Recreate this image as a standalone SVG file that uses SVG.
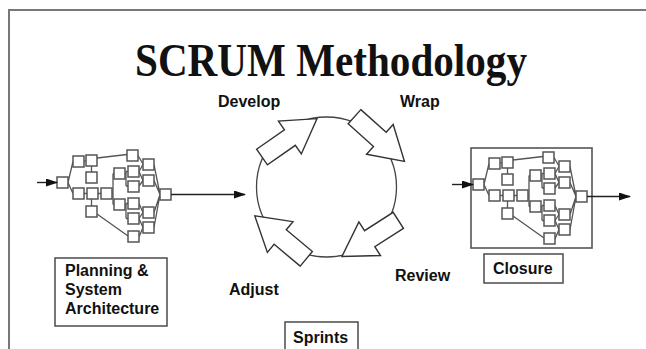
<svg xmlns="http://www.w3.org/2000/svg" xmlns:xlink="http://www.w3.org/1999/xlink" width="646" height="349" viewBox="0 0 646 349">
<style>
.lbl{font-family:"Liberation Sans",Arial,sans-serif;font-weight:bold;font-size:16px;fill:#111}
.ttl{font-family:"Liberation Serif","Times New Roman",serif;font-weight:bold;font-size:47px;fill:#111}
.bx{fill:#fff;stroke:#555;stroke-width:1.5}
.ln{fill:none;stroke:#555;stroke-width:1.3}
.frm{fill:none;stroke:#555;stroke-width:1.6}
.conn{fill:none;stroke:#222;stroke-width:1.4}
.blk{fill:#fff;stroke:#333;stroke-width:1.4;stroke-linejoin:miter}
</style>
<defs>
<marker id="ah" viewBox="0 0 12 8" refX="11" refY="4" markerWidth="12" markerHeight="8" markerUnits="userSpaceOnUse" orient="auto">
<path d="M0,0 L12,4 L0,8 Z" fill="#111"/>
</marker>
<polygon id="blockArrow" class="blk" points="0,-9.5 34,-9.5 34,-20 67,0 34,20 34,9.5 0,9.5"/>
<g id="net">
<path class="ln" d="M68,182.5 L73,161.5 M68,182.5 L73,193.5 M84,161.5 L86,160.5 M97,158 L127,154.5 M91.5,166 L91.5,172 M84,193.5 L87,193.5 M98,193.5 L101,193.5 M91.5,199 L91.5,206 M97,214 L128,236 M112,193.5 L113,193.5 M113,173.5 L113,204.5 M113,173.5 L114,173.5 M113,204.5 L114,204.5 M125,173.5 L126,173.5 M126,171.5 L126,186 M126,171.5 L128,171.5 M126,186 L128,186 M138,155.5 L143,164 M139,171.5 L143,164.5 M139,171.5 L143,180.5 M139,186 L143,180.5 M154,164.5 L160,194.5 M154,180.5 L160,194.5 M154,212.5 L160,194.5 M154,227.5 L160,194.5 M125,204.5 L126,204.5 M126,203.5 L126,218.5 M126,203.5 L128,203.5 M126,218.5 L128,218.5 M139,203.5 L143,212.5 M139,218.5 L143,212.5 M139,218.5 L143,227.5 M139,237 L143,227.5"/>
<rect class="bx" x="57" y="177" width="11" height="11"/>
<rect class="bx" x="73" y="156" width="11" height="11"/>
<rect class="bx" x="86" y="155" width="11" height="11"/>
<rect class="bx" x="86" y="172" width="11" height="11"/>
<rect class="bx" x="73" y="188" width="11" height="11"/>
<rect class="bx" x="87" y="188" width="11" height="11"/>
<rect class="bx" x="86" y="206" width="11" height="11"/>
<rect class="bx" x="101" y="188" width="11" height="11"/>
<rect class="bx" x="127" y="150" width="11" height="11"/>
<rect class="bx" x="114" y="168" width="11" height="11"/>
<rect class="bx" x="128" y="166" width="11" height="11"/>
<rect class="bx" x="128" y="181" width="11" height="11"/>
<rect class="bx" x="143" y="159" width="11" height="11"/>
<rect class="bx" x="143" y="175" width="11" height="11"/>
<rect class="bx" x="160" y="189" width="11" height="11"/>
<rect class="bx" x="114" y="199" width="11" height="11"/>
<rect class="bx" x="128" y="198" width="11" height="11"/>
<rect class="bx" x="128" y="213" width="11" height="11"/>
<rect class="bx" x="128" y="231" width="11" height="11"/>
<rect class="bx" x="143" y="207" width="11" height="11"/>
<rect class="bx" x="143" y="222" width="11" height="11"/>
</g>
</defs>
<rect x="0" y="0" width="646" height="349" fill="#fff"/>
<path d="M9,349 L9,10 L646,10" fill="none" stroke="#777" stroke-width="2"/>
<text class="ttl" x="135" y="76" textLength="392" lengthAdjust="spacingAndGlyphs">SCRUM Methodology</text>

<g id="planning-network"><use xlink:href="#net"/></g>
<g id="closure-network">
<rect class="frm" x="471" y="148" width="121" height="100"/>
<use xlink:href="#net" transform="translate(416,2)"/>
</g>

<g id="sprint-cycle">
<circle cx="326.5" cy="187" r="70" fill="none" stroke="#444" stroke-width="1.3"/>
<use xlink:href="#blockArrow" transform="translate(262,157) rotate(-34.9)"/>
<use xlink:href="#blockArrow" transform="translate(354.5,116.7) rotate(41.8)"/>
<use xlink:href="#blockArrow" transform="translate(398.3,220.3) rotate(147.3)"/>
<use xlink:href="#blockArrow" transform="translate(306.3,258.8) rotate(-140.2)"/>
</g>

<g id="connectors">
<line class="conn" x1="37" y1="182.5" x2="57" y2="182.5" marker-end="url(#ah)"/>
<line class="conn" x1="171" y1="194.5" x2="245" y2="194.5" marker-end="url(#ah)"/>
<line class="conn" x1="452" y1="184.5" x2="473" y2="184.5" marker-end="url(#ah)"/>
<line class="conn" x1="587" y1="196.5" x2="630" y2="196.5" marker-end="url(#ah)"/>
</g>

<g id="develop"><text class="lbl" x="218" y="107">Develop</text></g>
<g id="wrap"><text class="lbl" x="400" y="107">Wrap</text></g>
<g id="review"><text class="lbl" x="395" y="281">Review</text></g>
<g id="adjust"><text class="lbl" x="229" y="295">Adjust</text></g>

<g id="planning">
<rect class="frm" x="55" y="258" width="112" height="68"/>
<text class="lbl" x="65" y="276">Planning &amp;</text>
<text class="lbl" x="65" y="295">System</text>
<text class="lbl" x="65" y="314">Architecture</text>
</g>
<g id="closure">
<rect class="frm" x="484" y="254" width="79" height="29"/>
<text class="lbl" x="493" y="274">Closure</text>
</g>
<g id="sprints">
<rect class="frm" x="285" y="322" width="73" height="32"/>
<text class="lbl" x="293" y="343">Sprints</text>
</g>
</svg>
